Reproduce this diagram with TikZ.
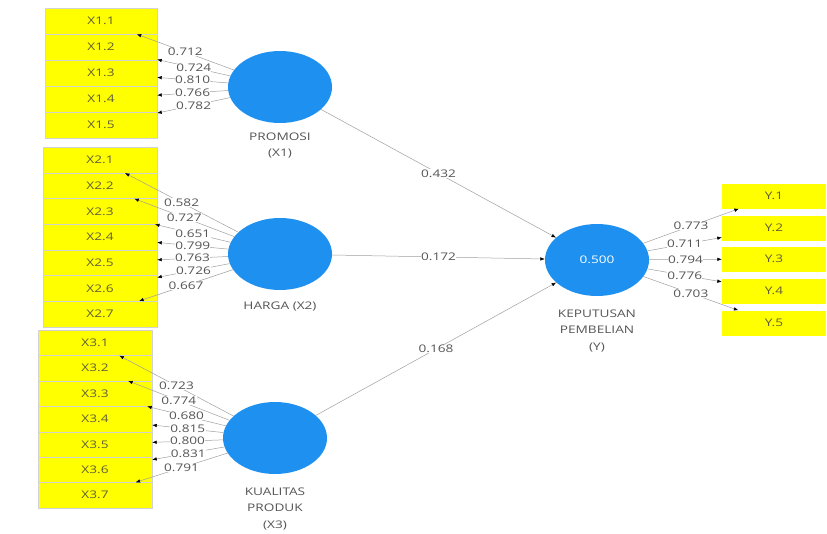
\documentclass[tikz,border=0pt]{standalone}
\usepackage{fontspec}
\setmainfont{Open Sans}[FakeStretch=1.3]
\usetikzlibrary{arrows.meta,shapes.geometric}
\definecolor{lvblue}{RGB}{30,144,240}
\definecolor{indyellow}{RGB}{255,255,0}
\definecolor{txtgray}{RGB}{85,85,85}
\definecolor{indtxt}{RGB}{95,95,55}
\begin{document}
\begin{tikzpicture}[x=1pt,y=-1pt,
  ind/.style={draw=gray!35, fill=indyellow, minimum width=112pt, minimum height=26pt,
    inner sep=0pt, font=\fontsize{10.5}{12}\selectfont, text=indtxt},
  lv/.style={ellipse, fill=lvblue, minimum width=104pt, minimum height=72pt, inner sep=0pt,
    font=\fontsize{10.5}{12}\selectfont, text=white},
  lvlab/.style={align=center, font=\fontsize{10.5}{16.5}\selectfont, text=txtgray},
  load/.style={-{Latex[length=4.5pt,width=3.5pt,color=black]}, draw=gray!75, line width=0.5pt},
  wlab/.style={fill=white, inner sep=0.3pt, font=\fontsize{10.5}{11}\selectfont, text=txtgray}
]
\useasboundingbox (0,0) rectangle (827,533);

% latent variables
\node[lv] (X1) at (280,87) {};
\node[lvlab] (X1lab) at (280,145.5) {PROMOSI\\(X1)};
\node[lv] (X2) at (280,254) {};
\node[lvlab] (X2lab) at (280,307) {HARGA (X2)};
\node[lv] (X3) at (275,438) {};
\node[lvlab] (X3lab) at (275,509) {KUALITAS\\PRODUK\\(X3)};
\node[lv] (Y) at (597,260) {0.500};
\node[lvlab] (Ylab) at (597,331) {KEPUTUSAN\\PEMBELIAN\\(Y)};

% indicators
\foreach \i/\yy in {1/21,2/47,3/73,4/99,5/125}
  \node[ind] (X1-\i) at (101,\yy) {X1.\i};
\foreach \i/\yy in {1/160,2/185.6,3/211.3,4/237,5/262.6,6/288.3,7/314}
  \node[ind, minimum width=114pt, minimum height=25.7pt] (X2-\i) at (100,\yy) {X2.\i};
\foreach \i/\yy in {1/342.7,2/368,3/393.5,4/419,5/444.4,6/469.8,7/495.2}
  \node[ind, minimum width=114pt, minimum height=25.4pt] (X3-\i) at (95,\yy) {X3.\i};
\foreach \i/\yy in {1/196,2/228,3/259,4/291,5/323}
  \node[ind, draw=none, minimum width=104pt, minimum height=25pt] (Y-\i) at (774,\yy) {Y.\i};

% outer loadings
\foreach \i/\v in {1/0.712,2/0.724,3/0.810,4/0.766,5/0.782}
  \draw[load] (X1) -- (X1-\i) node[wlab, midway] {\v};
\foreach \i/\v in {1/0.582,2/0.727,3/0.651,4/0.799,5/0.763,6/0.726,7/0.667}
  \draw[load] (X2) -- (X2-\i) node[wlab, midway] {\v};
\foreach \i/\v in {1/0.723,2/0.774,3/0.680,4/0.815,5/0.800,6/0.831,7/0.791}
  \draw[load] (X3) -- (X3-\i) node[wlab, midway] {\v};
\foreach \i/\v in {1/0.773,2/0.711,3/0.794,4/0.776,5/0.703}
  \draw[load] (Y) -- (Y-\i) node[wlab, midway] {\v};

% structural paths
\draw[load] (X1) -- (Y) node[wlab, midway] {0.432};
\draw[load] (X2) -- (Y) node[wlab, midway] {0.172};
\draw[load] (X3) -- (Y) node[wlab, midway] {0.168};
\end{tikzpicture}
\end{document}
